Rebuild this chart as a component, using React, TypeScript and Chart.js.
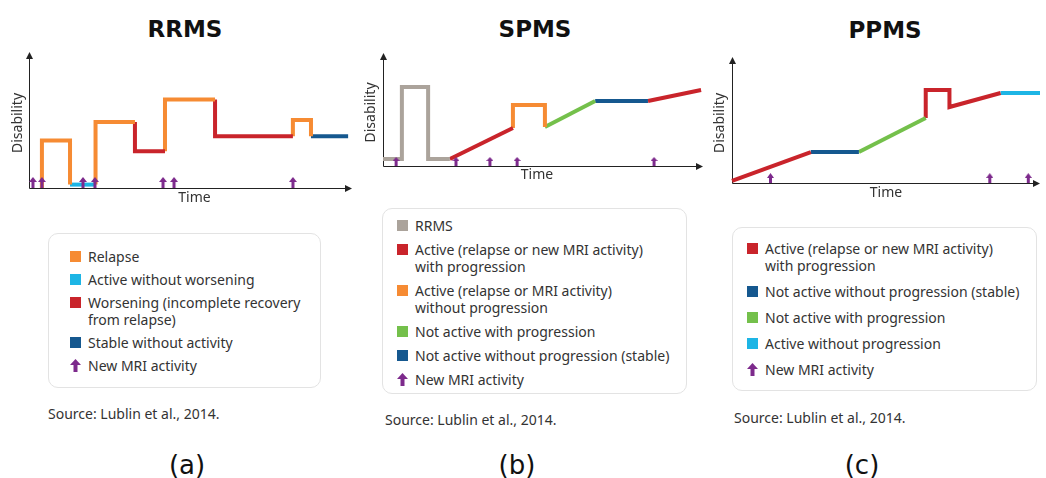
import React, { useEffect, useRef } from "react";
import { Chart, registerables } from "chart.js";

Chart.register(...registerables);

// ---------- colours ----------
const ORANGE = "#F68B33";
const CYAN = "#1DB5E5";
const RED = "#C9242B";
const BLUE = "#15588F";
const GREEN = "#74C04B";
const GRAY = "#ABA39B";
const PURPLE = "#7D2A8C";
const TEXT = "#333333";

type Pt = [number, number]; // [time, disability]

// ---------- RRMS data ----------
const rrmsRelapse1: Pt[] = [[4, 0], [4, 3.5], [12.7, 3.5], [12.7, 0.25]];
const rrmsActive1: Pt[] = [[12.7, 0.25], [20.6, 0.25]];
const rrmsRelapse2: Pt[] = [[20.6, 0.25], [20.6, 4.85], [32.8, 4.85]];
const rrmsWorsening1: Pt[] = [[32.8, 4.85], [32.8, 2.7], [42.1, 2.7]];
const rrmsRelapse3: Pt[] = [[42.1, 2.7], [42.1, 6.5], [57.6, 6.5]];
const rrmsWorsening2: Pt[] = [[57.6, 6.5], [57.6, 3.8], [81.7, 3.8]];
const rrmsRelapse4: Pt[] = [[81.7, 3.8], [81.7, 5.0], [87.3, 5.0], [87.3, 3.8]];
const rrmsStable1: Pt[] = [[87.3, 3.8], [98.8, 3.8]];
const rrmsMriTimes = [1.2, 4.0, 16.7, 20.4, 41.5, 44.9, 81.7];

// ---------- SPMS data ----------
const spmsRrms: Pt[] = [[0, 0.62], [5.9, 0.62], [5.9, 7.0], [14.1, 7.0], [14.1, 0.62], [20.9, 0.62]];
const spmsActiveProg1: Pt[] = [[20.9, 0.62], [40.6, 3.36]];
const spmsActiveNoProg: Pt[] = [[40.6, 3.36], [40.6, 5.4], [50.6, 5.4], [50.6, 3.45]];
const spmsNotActiveProg: Pt[] = [[50.6, 3.45], [66.3, 5.75]];
const spmsStable: Pt[] = [[66.3, 5.75], [82.8, 5.75]];
const spmsActiveProg2: Pt[] = [[82.8, 5.75], [99.4, 6.73]];
const spmsMriTimes = [4.1, 22.8, 33.4, 41.9, 84.7];

// ---------- PPMS data ----------
const ppmsActiveProg1: Pt[] = [[0, 0.16], [25.6, 2.46]];
const ppmsStable: Pt[] = [[25.6, 2.46], [41.2, 2.46]];
const ppmsNotActiveProg: Pt[] = [[41.2, 2.46], [62.9, 5.16]];
const ppmsActiveProg2: Pt[] = [[62.9, 5.16], [62.9, 7.38], [70.6, 7.38], [70.6, 6.03], [87.2, 7.14]];
const ppmsActiveNoProg: Pt[] = [[87.2, 7.14], [100, 7.14]];
const ppmsMriTimes = [12.5, 83.7, 96.2];

// ---------- legend labels ----------
const rrmsLegendLabels = [
  "Relapse",
  "Active without worsening",
  "Worsening (incomplete recovery\nfrom relapse)",
  "Stable without activity",
  "New MRI activity",
];
const spmsLegendLabels = [
  "RRMS",
  "Active (relapse or new MRI activity)\nwith progression",
  "Active (relapse or MRI activity)\nwithout progression",
  "Not active with progression",
  "Not active without progression (stable)",
  "New MRI activity",
];
const ppmsLegendLabels = [
  "Active (relapse or new MRI activity)\nwith progression",
  "Not active without progression (stable)",
  "Not active with progression",
  "Active without progression",
  "New MRI activity",
];
const SOURCE = "Source: Lublin et al., 2014.";

const FONT = "'Noto Sans', sans-serif";

function makeArrow(h: number, w: number): HTMLCanvasElement {
  const c = document.createElement("canvas");
  c.width = w;
  c.height = h * 2;
  const ctx = c.getContext("2d")!;
  ctx.fillStyle = PURPLE;
  const head = Math.round(h * 0.45);
  ctx.beginPath();
  ctx.moveTo(w / 2, 0);
  ctx.lineTo(w, head);
  ctx.lineTo(0, head);
  ctx.closePath();
  ctx.fill();
  const sw = Math.max(2, Math.round(w * 0.4));
  ctx.fillRect(w / 2 - sw / 2, head - 0.5, sw, h - head + 0.5);
  return c;
}

const arrowAxesPlugin = {
  id: "arrowAxes",
  beforeDatasetsDraw(chart: any, _args: any, opts: any) {
    const { ctx, chartArea } = chart;
    const { left, right, top, bottom } = chartArea;
    ctx.save();
    ctx.strokeStyle = "#222";
    ctx.fillStyle = "#222";
    ctx.lineWidth = 1;
    const x0 = Math.round(left) + 0.5;
    const y0 = Math.round(bottom) + 0.5;
    ctx.beginPath();
    ctx.moveTo(x0, y0);
    ctx.lineTo(x0, top + 4);
    ctx.moveTo(x0, y0);
    ctx.lineTo(right - 4, y0);
    ctx.stroke();
    // arrow heads
    ctx.beginPath();
    ctx.moveTo(x0, top);
    ctx.lineTo(x0 + 3.5, top + 7);
    ctx.lineTo(x0 - 3.5, top + 7);
    ctx.closePath();
    ctx.fill();
    ctx.beginPath();
    ctx.moveTo(right, y0);
    ctx.lineTo(right - 7, y0 - 3.5);
    ctx.lineTo(right - 7, y0 + 3.5);
    ctx.closePath();
    ctx.fill();
    // axis titles
    ctx.fillStyle = TEXT;
    ctx.font = `14px ${FONT}`;
    ctx.textAlign = "center";
    ctx.textBaseline = "middle";
    ctx.fillText(opts.xTitle, (left + right) / 2 + (opts.xShift || 0), bottom + opts.xOffset);
    ctx.translate(left + opts.yOffset, (top + bottom) / 2 + 3);
    ctx.rotate(-Math.PI / 2);
    ctx.fillText(opts.yTitle, 0, 0);
    ctx.restore();
  },
};

type Seg = { pts: Pt[]; color: string };

function PanelChart(props: {
  segs: Seg[];
  mri: number[];
  arrowH: number;
  arrowW: number;
  left: number;
  top: number;
  width: number;
  height: number;
  padding: { left: number; top: number; right: number; bottom: number };
  xOffset: number;
  yOffset: number;
  xShift?: number;
}) {
  const ref = useRef<HTMLCanvasElement>(null);
  useEffect(() => {
    if (!ref.current) return;
    const arrow = makeArrow(props.arrowH, props.arrowW);
    const datasets: any[] = [
      {
        label: "New MRI activity",
        data: props.mri.map((t) => ({ x: t, y: 0 })),
        showLine: false,
        pointStyle: arrow,
        pointRadius: 5,
        clip: false,
      },
      ...props.segs.map((s, i) => ({
        label: "seg" + i,
        data: s.pts.map(([x, y]) => ({ x, y })),
        borderColor: s.color,
        backgroundColor: s.color,
        borderWidth: 4,
        pointRadius: 0,
        tension: 0,
        fill: false,
        clip: false,
        borderJoinStyle: "miter",
        borderCapStyle: "butt",
      })),
    ];
    const chart = new Chart(ref.current, {
      type: "line",
      data: { datasets },
      options: {
        animation: false,
        responsive: false,
        maintainAspectRatio: false,
        layout: { padding: props.padding },
        scales: {
          x: { type: "linear", min: 0, max: 100, display: false },
          y: { type: "linear", min: 0, max: 10, display: false },
        },
        plugins: {
          legend: { display: false },
          tooltip: { enabled: false },
          arrowAxes: {
            xTitle: "Time",
            yTitle: "Disability",
            xOffset: props.xOffset,
            yOffset: props.yOffset,
            xShift: props.xShift || 0,
          },
        } as any,
      },
      plugins: [arrowAxesPlugin as any],
    });
    return () => chart.destroy();
  }, []);
  return (
    <canvas
      ref={ref}
      width={props.width}
      height={props.height}
      style={{ position: "absolute", left: props.left, top: props.top, width: props.width, height: props.height }}
    />
  );
}

function ArrowIcon() {
  return (
    <svg width="11" height="13" viewBox="0 0 11 13" style={{ display: "block" }}>
      <polygon points="5.5,0 11,6 0,6" fill={PURPLE} />
      <rect x="3.5" y="5.5" width="4" height="7.5" fill={PURPLE} />
    </svg>
  );
}

function Legend(props: {
  labels: string[];
  colors: (string | null)[];
  left: number;
  top: number;
  width: number;
  height: number;
  padTop: number;
  padLeft: number;
  gap: number;
}) {
  return (
    <div
      style={{
        position: "absolute",
        left: props.left,
        top: props.top,
        width: props.width,
        height: props.height,
        boxSizing: "border-box",
        border: "1px solid #E3E3E3",
        borderRadius: 10,
        paddingTop: props.padTop,
        paddingLeft: props.padLeft,
        display: "flex",
        flexDirection: "column",
        gap: props.gap,
        fontFamily: FONT,
        fontSize: 14,
        lineHeight: "17px",
        color: TEXT,
      }}
    >
      {props.labels.map((lab, i) => (
        <div key={i} style={{ display: "flex", alignItems: "flex-start" }}>
          <div style={{ width: 18, height: 17, display: "flex", alignItems: "center", flex: "none" }}>
            {props.colors[i] ? (
              <div style={{ width: 11, height: 11, background: props.colors[i] as string }} />
            ) : (
              <ArrowIcon />
            )}
          </div>
          <div style={{ whiteSpace: "pre-line" }}>{lab}</div>
        </div>
      ))}
    </div>
  );
}

function Centered(props: { x: number; y: number; text: string; style: React.CSSProperties }) {
  return (
    <div
      style={{
        position: "absolute",
        left: props.x,
        top: props.y,
        transform: "translate(-50%, -50%)",
        lineHeight: 1,
        whiteSpace: "nowrap",
        ...props.style,
      }}
    >
      {props.text}
    </div>
  );
}

const titleStyle: React.CSSProperties = {
  fontFamily: "'DejaVu Sans', sans-serif",
  fontWeight: "bold",
  fontSize: 23,
  color: "#111",
};
const captionStyle: React.CSSProperties = {
  fontFamily: "'DejaVu Sans', sans-serif",
  fontSize: 26,
  color: "#111",
};
const sourceStyle: React.CSSProperties = {
  position: "absolute",
  fontFamily: FONT,
  fontSize: 14,
  color: TEXT,
  lineHeight: "16px",
  whiteSpace: "nowrap",
};

export default function App() {
  const rrmsSegs: Seg[] = [
    { pts: rrmsRelapse1, color: ORANGE },
    { pts: rrmsActive1, color: CYAN },
    { pts: rrmsRelapse2, color: ORANGE },
    { pts: rrmsWorsening1, color: RED },
    { pts: rrmsRelapse3, color: ORANGE },
    { pts: rrmsWorsening2, color: RED },
    { pts: rrmsRelapse4, color: ORANGE },
    { pts: rrmsStable1, color: BLUE },
  ];
  const spmsSegs: Seg[] = [
    { pts: spmsRrms, color: GRAY },
    { pts: spmsActiveProg1, color: RED },
    { pts: spmsActiveNoProg, color: ORANGE },
    { pts: spmsNotActiveProg, color: GREEN },
    { pts: spmsStable, color: BLUE },
    { pts: spmsActiveProg2, color: RED },
  ];
  const ppmsSegs: Seg[] = [
    { pts: ppmsActiveProg1, color: RED },
    { pts: ppmsStable, color: BLUE },
    { pts: ppmsNotActiveProg, color: GREEN },
    { pts: ppmsActiveProg2, color: RED },
    { pts: ppmsActiveNoProg, color: CYAN },
  ];

  return (
    <div
      style={{
        position: "absolute",
        left: 0,
        top: 0,
        width: 1046,
        height: 478,
        overflow: "hidden",
        background: "#fff",
      }}
    >
      <Centered x={185} y={29} text="RRMS" style={titleStyle} />
      <Centered x={535} y={29} text="SPMS" style={titleStyle} />
      <Centered x={885} y={30} text="PPMS" style={titleStyle} />

      <PanelChart
        segs={rrmsSegs}
        mri={rrmsMriTimes}
        arrowH={11}
        arrowW={8}
        left={0}
        top={40}
        width={360}
        height={175}
        padding={{ left: 29, top: 12, right: 8, bottom: 27 }}
        xOffset={10}
        yOffset={-11}
        xShift={4}
      />
      <PanelChart
        segs={spmsSegs}
        mri={spmsMriTimes}
        arrowH={9}
        arrowW={7}
        left={355}
        top={40}
        width={355}
        height={150}
        padding={{ left: 28, top: 13, right: 7, bottom: 24 }}
        xOffset={9}
        yOffset={-12}
        xShift={-6}
      />
      <PanelChart
        segs={ppmsSegs}
        mri={ppmsMriTimes}
        arrowH={10}
        arrowW={7}
        left={705}
        top={40}
        width={341}
        height={165}
        padding={{ left: 27, top: 17, right: 1, bottom: 22 }}
        xOffset={10}
        yOffset={-12}
      />

      <Legend
        labels={rrmsLegendLabels}
        colors={[ORANGE, CYAN, RED, BLUE, null]}
        left={48}
        top={233}
        width={273}
        height={155}
        padTop={14}
        padLeft={21}
        gap={6}
      />
      <Legend
        labels={spmsLegendLabels}
        colors={[GRAY, RED, ORANGE, GREEN, BLUE, null]}
        left={382}
        top={208}
        width={305}
        height={186}
        padTop={8}
        padLeft={14}
        gap={7}
      />
      <Legend
        labels={ppmsLegendLabels}
        colors={[RED, BLUE, GREEN, CYAN, null]}
        left={732}
        top={227}
        width={305}
        height={164}
        padTop={12}
        padLeft={14}
        gap={9}
      />

      <div style={{ ...sourceStyle, left: 48, top: 406 }}>{SOURCE}</div>
      <div style={{ ...sourceStyle, left: 385, top: 412 }}>{SOURCE}</div>
      <div style={{ ...sourceStyle, left: 734, top: 410 }}>{SOURCE}</div>

      <Centered x={187} y={465} text="(a)" style={captionStyle} />
      <Centered x={517} y={465} text="(b)" style={captionStyle} />
      <Centered x={862} y={465} text="(c)" style={captionStyle} />
    </div>
  );
}
